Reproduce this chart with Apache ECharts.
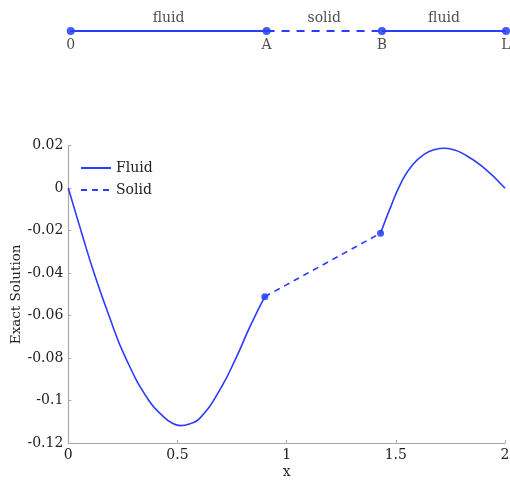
<!DOCTYPE html>
<html>
<head>
<meta charset="utf-8">
<script src="https://cdn.jsdelivr.net/npm/echarts@6/dist/echarts.min.js"></script>
<style>
  html, body { margin: 0; padding: 0; background: #fff; }
  #chart { width: 510px; height: 480px; }
</style>
</head>
<body>
<div id="chart"></div>
<script>
// top sketch: interface positions
const sketchPoints = [[0, 0], [0.9, 0], [1.43, 0], [2, 0]];
const sketchPointNames = ['0', 'A', 'B', 'L'];
const regionLabels = [[0.45, 0, 'fluid'], [1.165, 0, 'solid'], [1.715, 0, 'fluid']];

// exact solution
const fluidLeft = [
  [0, 0], [0.058, -0.02], [0.118, -0.04], [0.186, -0.06], [0.263, -0.08],
  [0.369, -0.1], [0.438, -0.1078], [0.475, -0.1106], [0.514, -0.1118],
  [0.555, -0.1110], [0.603, -0.1083],
  [0.694, -0.095], [0.771, -0.0793], [0.832, -0.0652], [0.9, -0.0511]
];
const solid = [[0.9, -0.0511], [1.43, -0.0212]];
const fluidRight = [
  [1.43, -0.0212], [1.477, -0.0087], [1.523, 0.0023], [1.576, 0.0109],
  [1.637, 0.0164], [1.68, 0.0182], [1.721, 0.0188], [1.76, 0.0182],
  [1.805, 0.0164], [1.897, 0.0101], [2, 0]
];
const interfacePts = [[0.9, -0.0511], [1.43, -0.0212]];

const blue = '#2b3cff';
const dotBlue = '#1034f0';
const font = 'DejaVu Serif';

const chart = echarts.init(document.getElementById('chart'));
chart.setOption({
  animation: false,
  textStyle: { fontFamily: font },
  grid: [
    { left: 70.7, right: 4, top: 21, height: 20, outerBoundsMode: 'none', containLabel: false },
    { left: 68.3, right: 5, top: 145.7, bottom: 37, outerBoundsMode: 'none', containLabel: false }
  ],
  legend: {
    data: ['Fluid', 'Solid'],
    orient: 'vertical',
    left: 75, top: 156,
    itemWidth: 30, itemHeight: 14, itemGap: 8,
    itemStyle: { opacity: 0 },
    textStyle: { fontFamily: font, fontSize: 14, color: '#222' }
  },
  xAxis: [
    { gridIndex: 0, type: 'value', min: 0, max: 2, show: false },
    {
      gridIndex: 1, type: 'value', min: 0, max: 2, interval: 0.5,
      name: 'x', nameLocation: 'middle', nameGap: 22, nameMoveOverlap: false,
      nameTextStyle: { fontFamily: font, fontSize: 14, color: '#222' },
      axisLine: { onZero: false, lineStyle: { color: '#aaa', width: 1.2 } },
      axisTick: { inside: true, length: 3, lineStyle: { color: '#aaa' } },
      axisLabel: { fontFamily: font, fontSize: 14, color: '#222', margin: 5 },
      splitLine: { show: false }
    }
  ],
  yAxis: [
    { gridIndex: 0, type: 'value', min: -1, max: 1, show: false },
    {
      gridIndex: 1, type: 'value', min: -0.12, max: 0.02, interval: 0.02,
      name: 'Exact Solution', nameLocation: 'middle', nameGap: 45, nameMoveOverlap: false,
      nameTextStyle: { fontFamily: font, fontSize: 13.5, color: '#222' },
      axisLine: { show: true, onZero: false, lineStyle: { color: '#aaa', width: 1.2 } },
      axisTick: { show: true, inside: true, length: 3, lineStyle: { color: '#aaa' } },
      axisLabel: { fontFamily: font, fontSize: 14, color: '#222', margin: 5 },
      splitLine: { show: false }
    }
  ],
  series: [
    // sketch
    {
      type: 'line', xAxisIndex: 0, yAxisIndex: 0, symbol: 'none',
      data: [sketchPoints[0], sketchPoints[1]],
      lineStyle: { color: blue, width: 2 }
    },
    {
      type: 'line', xAxisIndex: 0, yAxisIndex: 0, symbol: 'none',
      data: [sketchPoints[1], sketchPoints[2]],
      lineStyle: { color: blue, width: 2, type: [8, 7] }
    },
    {
      type: 'line', xAxisIndex: 0, yAxisIndex: 0, symbol: 'none',
      data: [sketchPoints[2], sketchPoints[3]],
      lineStyle: { color: blue, width: 2 }
    },
    {
      type: 'scatter', xAxisIndex: 0, yAxisIndex: 0, symbolSize: 8,
      itemStyle: { color: dotBlue },
      data: sketchPoints.map((p, i) => ({ value: p, name: sketchPointNames[i] })),
      label: {
        show: true, position: 'bottom', distance: 3,
        formatter: p => p.name,
        fontFamily: font, fontSize: 14, color: '#222'
      }
    },
    {
      type: 'scatter', xAxisIndex: 0, yAxisIndex: 0, symbolSize: 0,
      data: regionLabels,
      label: {
        show: true, position: 'top', distance: 6,
        formatter: p => p.value[2],
        fontFamily: font, fontSize: 14, color: '#222'
      }
    },
    // main plot
    {
      name: 'Fluid', type: 'line', xAxisIndex: 1, yAxisIndex: 1,
      symbol: 'none', smooth: 0.5, data: fluidLeft,
      lineStyle: { color: blue, width: 1.6 }, itemStyle: { color: blue }
    },
    {
      name: 'Fluid', type: 'line', xAxisIndex: 1, yAxisIndex: 1,
      symbol: 'none', smooth: 0.5, data: fluidRight,
      lineStyle: { color: blue, width: 1.6 }, itemStyle: { color: blue }
    },
    {
      name: 'Solid', type: 'line', xAxisIndex: 1, yAxisIndex: 1,
      symbol: 'none', data: solid,
      lineStyle: { color: blue, width: 1.6, type: [6, 5] }, itemStyle: { color: blue }
    },
    {
      type: 'scatter', xAxisIndex: 1, yAxisIndex: 1, symbolSize: 7,
      data: interfacePts, itemStyle: { color: dotBlue }
    }
  ]
});
</script>
</body>
</html>
